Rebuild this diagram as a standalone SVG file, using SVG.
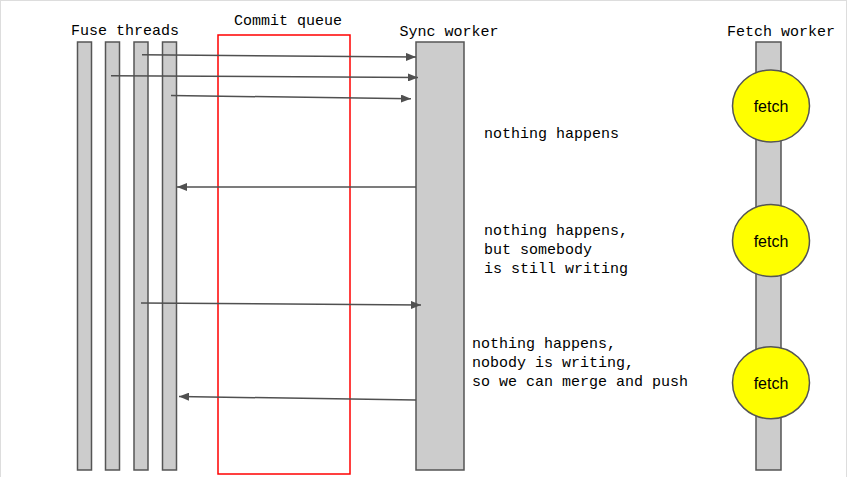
<svg xmlns="http://www.w3.org/2000/svg" width="847" height="477" viewBox="0 0 847 477">
<style>
.bar{fill:#cccccc;stroke:#555555;stroke-width:1.5}
.lbl{font-family:"Liberation Mono","DejaVu Sans Mono",monospace;font-size:15px;fill:#000}
.ttl{font-family:"Liberation Mono","DejaVu Sans Mono",monospace;font-size:15px;fill:#000;text-anchor:middle}
.fetch{fill:#ffff00;stroke:#555555;stroke-width:1.5}
.ft{font-family:"Liberation Sans",Arial,sans-serif;font-size:16px;fill:#000;text-anchor:middle}
.msg{stroke:#505050;stroke-width:1.5;fill:none;marker-end:url(#ah)}
</style>
<defs>
<marker id="ah" viewBox="0 0 10 8" refX="10" refY="4" markerWidth="10" markerHeight="8" markerUnits="userSpaceOnUse" orient="auto">
<path d="M0,0 L10,4 L0,8 Z" fill="#505050"/>
</marker>
</defs>
<rect x="0.5" y="0.5" width="846" height="480" fill="#ffffff" stroke="#dddddd" stroke-width="1"/>
<g id="fuse-threads">
<text class="ttl" x="125" y="35">Fuse threads</text>
<rect class="bar" x="77.5" y="42" width="14" height="428"/>
<rect class="bar" x="105.5" y="42" width="14" height="428"/>
<rect class="bar" x="134" y="42" width="14" height="428"/>
<rect class="bar" x="162.5" y="42" width="14" height="428"/>
</g>
<g id="commit-queue">
<text class="ttl" x="288" y="25">Commit queue</text>
<rect x="218" y="35" width="132" height="439" fill="none" stroke="#ff0000" stroke-width="1.5"/>
</g>
<g id="sync-worker">
<text class="ttl" x="449" y="36">Sync worker</text>
<rect class="bar" x="416" y="42" width="48" height="428"/>
</g>
<g id="fetch-worker">
<text class="ttl" x="781" y="36">Fetch worker</text>
<rect class="bar" x="756" y="42" width="25" height="428"/>
<ellipse class="fetch" cx="771" cy="106" rx="38.5" ry="36"/>
<text class="ft" x="771" y="112">fetch</text>
<ellipse class="fetch" cx="771" cy="240.5" rx="38.5" ry="36"/>
<text class="ft" x="771" y="246.5">fetch</text>
<ellipse class="fetch" cx="771" cy="382.7" rx="38.5" ry="36"/>
<text class="ft" x="771" y="388.7">fetch</text>
</g>
<g id="connectors">
<line class="msg" x1="142" y1="54.7" x2="416" y2="57"/>
<line class="msg" x1="111" y1="75.7" x2="418" y2="77.5"/>
<line class="msg" x1="171" y1="95.5" x2="411" y2="98.7"/>
<line class="msg" x1="416" y1="187" x2="177" y2="187"/>
<line class="msg" x1="141" y1="303" x2="421" y2="305"/>
<line class="msg" x1="416" y1="400" x2="179" y2="396.5"/>
</g>
<g id="notes">
<text class="lbl" x="484" y="138">nothing happens</text>
<text class="lbl" x="484" y="235">nothing happens,</text>
<text class="lbl" x="484" y="254">but somebody</text>
<text class="lbl" x="484" y="273">is still writing</text>
<text class="lbl" x="472" y="348">nothing happens,</text>
<text class="lbl" x="472" y="367">nobody is writing,</text>
<text class="lbl" x="472" y="386">so we can merge and push</text>
</g>
</svg>
